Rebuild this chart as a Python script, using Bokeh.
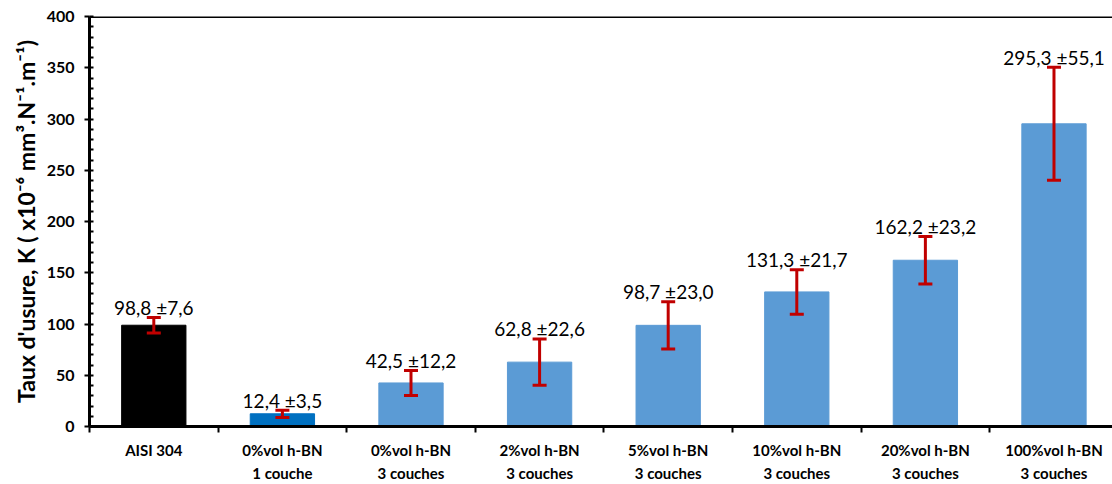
from bokeh.plotting import figure
from bokeh.models import (ColumnDataSource, Range1d, FixedTicker, SingleIntervalTicker,
                          Whisker, TeeHead, Span, Title)
from bokeh.core.properties import value
from bokeh.embed import file_html
from bokeh.resources import INLINE

# ---- data ----
categories = ["AISI 304", "0%vol h-BN\n1 couche", "0%vol h-BN\n3 couches",
              "2%vol h-BN\n3 couches", "5%vol h-BN\n3 couches", "10%vol h-BN\n3 couches",
              "20%vol h-BN\n3 couches", "100%vol h-BN\n3 couches"]
wear_rate = [98.8, 12.4, 42.5, 62.8, 98.7, 131.3, 162.2, 295.3]
wear_err = [7.6, 3.5, 12.2, 22.6, 23.0, 21.7, 23.2, 55.1]
y_ticks = [0, 50, 100, 150, 200, 250, 300, 350, 400]
y_title = "Taux d'usure, K ( x10\u207b\u2076 mm\u00b3.N\u207b\u00b9.m\u207b\u00b9)"

# ---- styles ----
bar_colors = ["#000000", "#0070C0"] + ["#5B9BD5"] * 6
FONT = "Lato"
W, H = 1112, 484

def fr(v):
    return f"{v:.1f}".replace(".", ",")

xs = list(range(len(categories)))
src = ColumnDataSource(dict(
    x=xs, top=wear_rate, err=wear_err,
    upper=[v + e for v, e in zip(wear_rate, wear_err)],
    lower=[v - e for v, e in zip(wear_rate, wear_err)],
    label=[f"{fr(v)} ±{fr(e)}" for v, e in zip(wear_rate, wear_err)],
    color=bar_colors,
))

p = figure(width=W, height=H, output_backend="svg", toolbar_location=None,
           x_range=Range1d(-0.5, 7.455), y_range=Range1d(y_ticks[0], y_ticks[-1]),
           min_border_left=89, min_border_top=16, min_border_right=0, min_border_bottom=50)
p.outline_line_color = None
p.xgrid.visible = False
p.ygrid.visible = False
p.background_fill_color = "white"

p.vbar(x="x", top="top", width=0.5, color="color", source=src)

whisk = Whisker(base="x", upper="upper", lower="lower", source=src,
                line_color="#C00000", line_width=3, level="overlay",
                upper_head=TeeHead(size=14, line_color="#C00000", line_width=3),
                lower_head=TeeHead(size=14, line_color="#C00000", line_width=3))
p.add_layout(whisk)

p.text(x="x", y="upper", text="label", source=src, text_align="center",
       text_baseline="alphabetic", y_offset=-10, text_font=value(FONT),
       text_font_size="19px", text_color="#000000")

p.add_layout(Span(location=y_ticks[-1], dimension="width", line_color="black", line_width=3))

# y-axis title as a side title (shifted like the reference)
yt = Title(text=y_title, align="center", offset=38, text_font=FONT,
           text_font_style="bold", text_font_size="23px", text_color="black",
           standoff=8)
p.add_layout(yt, "left")

# x axis
xa = p.xaxis[0]
xa.ticker = FixedTicker(ticks=xs, minor_ticks=[i - 0.5 for i in range(len(categories) + 1)])
xa.major_label_overrides = {i: c for i, c in enumerate(categories)}
xa.major_tick_out = 0
xa.major_tick_in = 0
xa.minor_tick_out = 6
xa.minor_tick_in = 0
xa.minor_tick_line_color = "black"
xa.minor_tick_line_width = 2
xa.axis_line_width = 3
xa.axis_line_color = "black"
xa.major_label_text_font = FONT
xa.major_label_text_font_style = "bold"
xa.major_label_text_font_size = "15px"
xa.major_label_text_color = "black"
xa.major_label_standoff = 8
xa.major_label_text_line_height = 1.28

# y axis
ya = p.yaxis[0]
ya.ticker = SingleIntervalTicker(interval=50, num_minor_ticks=5)
ya.major_tick_out = 5
ya.major_tick_in = 0
ya.major_tick_line_width = 2
ya.minor_tick_in = 4
ya.minor_tick_out = 0
ya.minor_tick_line_width = 2
ya.minor_tick_line_color = "black"
ya.axis_line_width = 3
ya.axis_line_color = "black"
ya.major_label_text_font = FONT
ya.major_label_text_font_style = "bold"
ya.major_label_text_font_size = "16px"
ya.major_label_text_color = "black"
ya.major_label_standoff = 10

open("out.html", "w").write(file_html(p, INLINE))
